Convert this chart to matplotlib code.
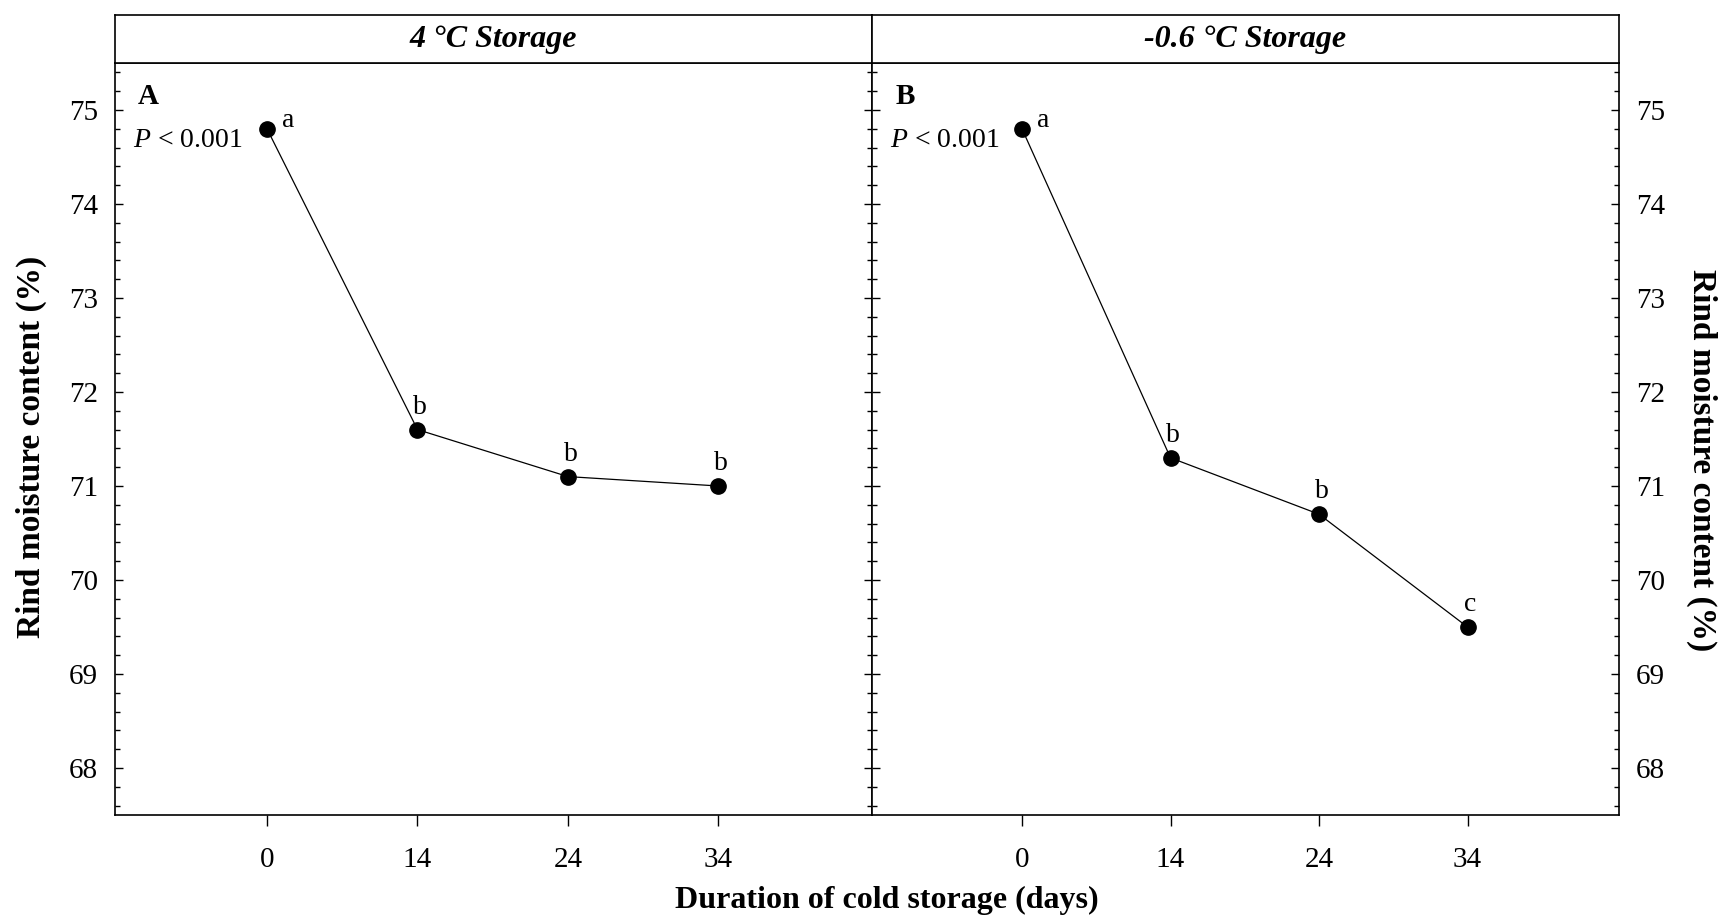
import numpy as np
import matplotlib
matplotlib.use("Agg")
import matplotlib.pyplot as plt
from matplotlib.ticker import MultipleLocator

plt.rcParams['font.family'] = ['Liberation Serif', 'DejaVu Serif']
plt.rcParams['mathtext.fontset'] = 'custom'
plt.rcParams['mathtext.it'] = 'Liberation Serif:italic'
plt.rcParams['mathtext.rm'] = 'Liberation Serif'

# storage duration (days) and rind moisture (%)
days = ['0', '14', '24', '34']
moist_4c = [74.8, 71.6, 71.1, 71.0]
moist_m06 = [74.8, 71.3, 70.7, 69.5]
letters_4c = ['a', 'b', 'b', 'b']
letters_m06 = ['a', 'b', 'b', 'c']
panel_titles = ['4 °C Storage', '-0.6 °C Storage']
panel_tags = ['A', 'B']

fig = plt.figure(figsize=(17.22, 9.17), dpi=100)

W, H = 1722, 917
x_left, x_mid, x_right = 115, 872, 1619
y_top, y_bot, y_head = 63, 815, 15

def frac(x0, x1, y0, y1):
    return [x0 / W, 1 - y1 / H, (x1 - x0) / W, (y1 - y0) / H]

ax1 = fig.add_axes(frac(x_left, x_mid, y_top, y_bot))
ax2 = fig.add_axes(frac(x_mid, x_right, y_top, y_bot))
h1 = fig.add_axes(frac(x_left, x_mid, y_head, y_top))
h2 = fig.add_axes(frac(x_mid, x_right, y_head, y_top))

pos = np.arange(len(days))

for ax, vals, lets, tag, side in [(ax1, moist_4c, letters_4c, 'A', 'left'),
                                  (ax2, moist_m06, letters_m06, 'B', 'right')]:
    ax.plot(pos, vals, color='black', lw=0.9, marker='o', ms=11,
            mfc='black', mec='black', zorder=3)
    for i, (v, l) in enumerate(zip(vals, lets)):
        off = (15, 6) if i == 0 else (2, 16)
        ax.annotate(l, (pos[i], v), xytext=off, textcoords='offset points',
                    ha='center', va='center', fontsize=20)
    ax.set_xlim(-1.01, 4.02)
    ax.set_ylim(67.5, 75.5)
    ax.set_xticks(pos)
    ax.set_xticklabels(days)
    ax.yaxis.set_major_locator(MultipleLocator(1))
    ax.yaxis.set_minor_locator(MultipleLocator(0.2))
    ax.tick_params(axis='x', direction='out', length=8, width=1, pad=15,
                   labelsize=21, top=False)
    ax.tick_params(axis='y', which='major', direction='in', length=6,
                   width=1, pad=12, labelsize=21, left=True, right=True,
                   labelleft=(side == 'left'), labelright=(side == 'right'))
    ax.tick_params(axis='y', which='minor', direction='in', length=3.8,
                   width=1, left=True, right=True)
    for sp in ax.spines.values():
        sp.set_linewidth(1.2)
    ax.text(0.044, 0.955, tag, transform=ax.transAxes, fontsize=21,
            fontweight='bold', ha='center', va='center')
    ax.text(0.024, 0.897, r'$P$ < 0.001', transform=ax.transAxes,
            fontsize=20, ha='left', va='center')

for h, t in zip([h1, h2], panel_titles):
    h.set_xticks([])
    h.set_yticks([])
    for sp in h.spines.values():
        sp.set_linewidth(1.2)
    h.text(0.5, 0.5, t, transform=h.transAxes, fontsize=23,
           fontweight='bold', fontstyle='italic', ha='center', va='center')

fig.text(0.018, 0.5125, 'Rind moisture content (%)', rotation=90,
         fontsize=24, fontweight='bold', ha='center', va='center')
fig.text(0.988, 0.498, 'Rind moisture content (%)', rotation=-90,
         fontsize=24, fontweight='bold', ha='center', va='center')
fig.text(0.515, 0.0185, 'Duration of cold storage (days)',
         fontsize=23, fontweight='bold', ha='center', va='center')

fig.savefig('out.png', dpi=100)
